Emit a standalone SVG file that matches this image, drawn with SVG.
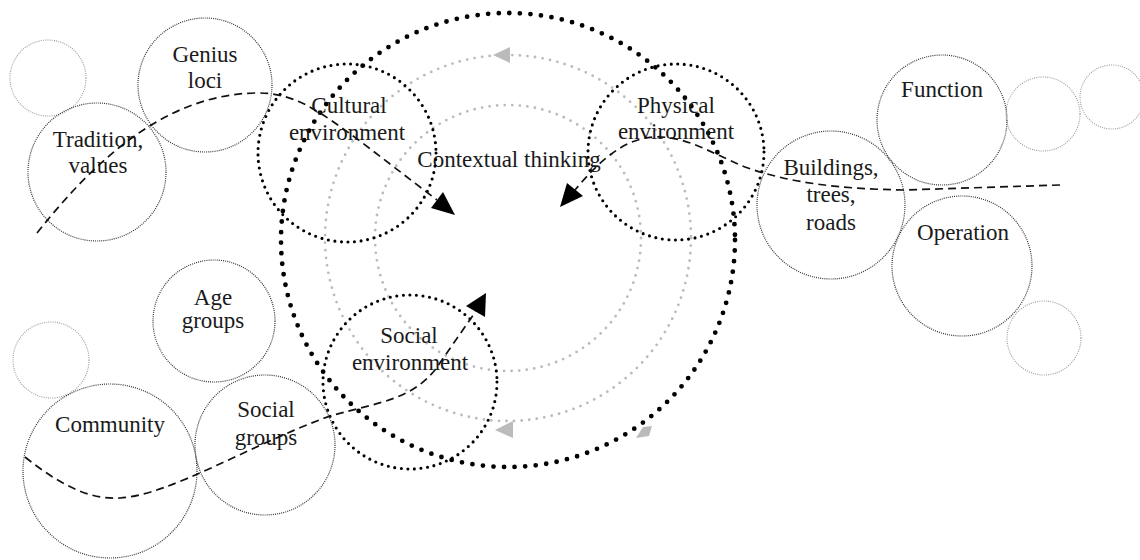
<svg xmlns="http://www.w3.org/2000/svg" width="1140" height="560" viewBox="0 0 1140 560">
<style>
.thin{fill:none;stroke:#333;stroke-width:1.2;stroke-dasharray:1 1.1}
.faint{fill:none;stroke:#999;stroke-width:1.1;stroke-dasharray:1 1.2}
.env{fill:none;stroke:#000;stroke-width:3.1;stroke-linecap:round;stroke-dasharray:0 6.6}
.big{fill:none;stroke:#000;stroke-width:4.8;stroke-linecap:round;stroke-dasharray:0 10.6}
.gray{fill:none;stroke:#bbb;stroke-width:2.8;stroke-linecap:round;stroke-dasharray:0 7.6}
.dash{fill:none;stroke:#111;stroke-width:1.7;stroke-dasharray:8 5}
.head{fill:#000}
.ghead{fill:#bbb}
text{font-family:"Liberation Serif","Times New Roman",serif;font-size:23px;fill:#1a1a1a;text-anchor:middle}
</style>
<rect width="1140" height="560" fill="#fff"/>
<g id="contextual-thinking">
<circle class="gray" cx="508" cy="238" r="183"/>
<circle class="gray" cx="508" cy="238" r="133"/>
<circle class="big" cx="508" cy="240" r="227"/>
<polygon class="ghead" points="493,55 510,47 510,63"/>
<polygon class="ghead" points="495,430 513,421 513,438"/>
<polygon class="ghead" points="636,438 643,427 652,426 649,436"/>
<text x="509" y="167">Contextual thinking</text>
</g>
<g id="cultural-environment">
<circle class="env" cx="347" cy="153" r="89"/>
<text x="349" y="113">Cultural</text>
<text x="347" y="140">environment</text>
</g>
<g id="physical-environment">
<circle class="env" cx="676" cy="152" r="88"/>
<text x="676" y="113">Physical</text>
<text x="676" y="139">environment</text>
</g>
<g id="social-environment">
<circle class="env" cx="410" cy="382" r="87"/>
<text x="409" y="343">Social</text>
<text x="410" y="370">environment</text>
</g>
<g id="faint-top-left"><circle class="faint" cx="48" cy="78" r="38"/></g>
<g id="genius-loci">
<circle class="thin" cx="205" cy="85" r="67"/>
<text x="205" y="62">Genius</text>
<text x="205" y="88">loci</text>
</g>
<g id="tradition-values">
<circle class="thin" cx="97" cy="172" r="69"/>
<text x="98" y="147">Tradition,</text>
<text x="98" y="173">values</text>
</g>
<g id="faint-mid-left"><circle class="faint" cx="51" cy="360" r="38"/></g>
<g id="age-groups">
<circle class="thin" cx="214" cy="321" r="61"/>
<text x="213" y="305">Age</text>
<text x="213" y="328">groups</text>
</g>
<g id="community">
<circle class="thin" cx="110" cy="471" r="87"/>
<text x="110" y="432">Community</text>
</g>
<g id="social-groups">
<circle class="thin" cx="265" cy="445" r="70"/>
<text x="266" y="417">Social</text>
<text x="266" y="445">groups</text>
</g>
<g id="buildings">
<circle class="thin" cx="831" cy="205" r="74"/>
<text x="831" y="175">Buildings,</text>
<text x="831" y="202">trees,</text>
<text x="831" y="230">roads</text>
</g>
<g id="function">
<circle class="thin" cx="942" cy="120" r="65"/>
<text x="942" y="97">Function</text>
</g>
<g id="operation">
<circle class="thin" cx="962" cy="266" r="70"/>
<text x="963" y="240">Operation</text>
</g>
<g id="faint-right-1"><circle class="faint" cx="1043" cy="114" r="37"/></g>
<g id="faint-right-2"><circle class="faint" cx="1112" cy="97" r="32"/></g>
<g id="faint-right-3"><circle class="faint" cx="1044" cy="338" r="37"/></g>
<g id="connectors">
<path class="dash" d="M37,233 C95,160 165,95 255,93 C295,92 320,112 360,141 L437,200"/>
<polygon class="head" points="455,215 443,192 431,208"/>
<path class="dash" d="M1060,185 L905,190 C840,189 790,183 745,167 C705,150 685,136 655,137 C625,138 600,160 575,190"/>
<polygon class="head" points="560,207 567,183 583,196"/>
<path class="dash" d="M25,457 C60,485 90,500 120,498 C170,495 250,445 330,416 C380,402 410,400 435,370 L476,311"/>
<polygon class="head" points="486,293 466,306 485,317"/>
</g>
</svg>
